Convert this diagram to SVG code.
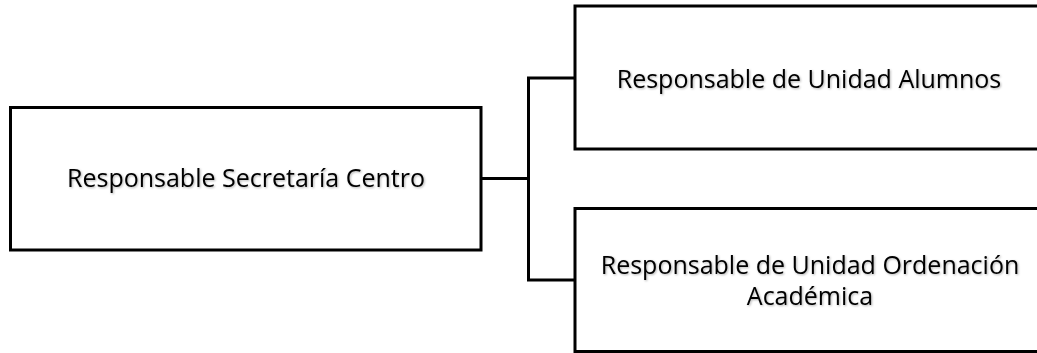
<svg xmlns="http://www.w3.org/2000/svg" width="1037" height="353" viewBox="0 0 1037 353">
<defs>
<filter id="sh" x="-5%" y="-20%" width="110%" height="140%">
<feDropShadow dx="1" dy="1" stdDeviation="0.8" flood-color="#000" flood-opacity="0.3"/>
</filter>
</defs>
<style>
.box{fill:#fff;stroke:#000;stroke-width:3}
.t{font-family:"Open Sans","Liberation Sans",sans-serif;font-size:25px;fill:#000;text-anchor:middle;filter:url(#sh)}
.c{fill:none;stroke:#000;stroke-width:3}
</style>
<rect width="1037" height="353" fill="#fff"/>
<g id="connectors">
<path class="c" d="M481 178.5 H528.5 M528.5 78 V280 M527 78 H575 M527 280 H575"/>
</g>
<g id="n1">
<rect class="box" x="10.5" y="107.5" width="470.5" height="142.5"/>
<text class="t" x="246" y="187">Responsable Secretaría Centro</text>
</g>
<g id="n2">
<rect class="box" x="575" y="6" width="470" height="143"/>
<text class="t" x="809" y="88">Responsable de Unidad Alumnos</text>
</g>
<g id="n3">
<rect class="box" x="575" y="208.5" width="470" height="143"/>
<text class="t" x="810" y="274">Responsable de Unidad Ordenación</text>
<text class="t" x="810" y="305">Académica</text>
</g>
</svg>
